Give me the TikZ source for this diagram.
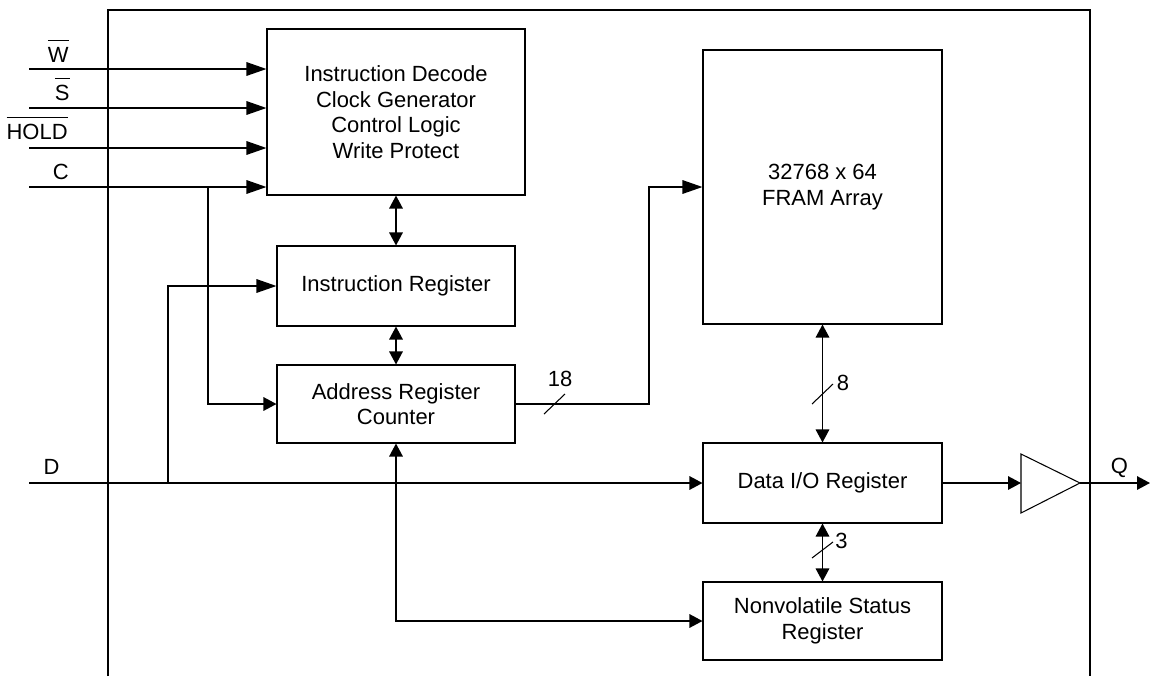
\documentclass[tikz,border=0pt]{standalone}
\usepackage{fontspec}
\setmainfont{Liberation Sans}
\usetikzlibrary{arrows.meta}

\newcommand{\pinbar}[1]{$\overline{\rule{0pt}{11pt}\hbox{#1}}$}

\begin{document}
\begin{tikzpicture}[x=0.2mm, y=-0.2mm,
		every node/.style={font=\fontsize{12.5}{14.5}\selectfont},
		blk/.style={draw, line width=0.6pt, align=center, inner sep=0pt},
		sig/.style={line width=0.9pt, -{Triangle[length=2.6mm,width=2.7mm]}},
		lsig/.style={line width=0.9pt, -{Triangle[length=4mm,width=2.7mm]}},
		bus/.style={line width=0.9pt, {Triangle[length=2.6mm,width=2.7mm]}-{Triangle[length=2.6mm,width=2.7mm]}},
		tick/.style={line width=0.6pt},
		pinlbl/.style={anchor=base east, inner sep=0pt}]
			\useasboundingbox (0,0) rectangle (1150,676);
			\draw [line width=0.7pt] (108,676) -- (108,10) -- (1090,10) -- (1090,676);

			\node [blk, minimum width=51.6mm, minimum height=33.2mm] (ctrl) at (396,112) {Instruction Decode\\Clock Generator\\Control Logic\\Write Protect};
			\node [blk, minimum width=47.6mm, minimum height=16mm] (ir) at (396,286) {Instruction Register};
			\node [blk, minimum width=47.6mm, minimum height=15.6mm] (ar) at (396,404) {Address Register\\Counter};
			\node [blk, minimum width=47.8mm, minimum height=54.8mm] (fram) at (822.5,187) {32768 x 64\\FRAM Array};
			\node [blk, minimum width=47.8mm, minimum height=16mm] (dio) at (822.5,483) {Data I/O Register};
			\node [blk, minimum width=47.8mm, minimum height=15.6mm] (nvs) at (822.5,621) {Nonvolatile Status\\Register};

			\coordinate (w) at (29,69);
			\coordinate (s) at (29,108);
			\coordinate (hold) at (29,148);
			\coordinate (c) at (29,187);
			\coordinate (d) at (29,483);
			\coordinate (cj) at (208,187);
			\coordinate (dj) at (168,483);
			\coordinate (bend) at (649,404);
			\coordinate (bufin) at (1021,483);
			\coordinate (bufout) at (1080,483);
			\coordinate (q) at (1150,483);

			\node [pinlbl] (wlbl) at (69,62) {\pinbar{W}};
			\node [pinlbl] (slbl) at (70,100) {\pinbar{S}};
			\node [pinlbl] (holdlbl) at (68,139) {\pinbar{HOLD}};
			\node [pinlbl] (clbl) at (69,179) {C};
			\node [anchor=base] (dlbl) at (51.5,474) {D};
			\node [anchor=base] (qlbl) at (1119.5,473) {Q};

			\draw [lsig] (w) -- (w -| ctrl.west);
			\draw [lsig] (s) -- (s -| ctrl.west);
			\draw [lsig] (hold) -- (hold -| ctrl.west);
			\draw [lsig] (c) -- (c -| ctrl.west);
			\draw [sig] (cj) |- (ar.west);
			\draw [lsig] (dj) |- (ir.west);
			\draw [sig] (d) -- (dio.west);

			\draw [bus] (ctrl.south) -- (ir.north);
			\draw [bus] (ir.south) -- (ar.north);
			\draw [lsig] (ar.east) -- (bend) |- (fram.west);
			\draw [bus] (fram.south) -- (dio.north);
			\draw [bus] (dio.south) -- (nvs.north);
			\draw [bus] (nvs.west) -| (ar.south);

			\draw [line width=0.6pt] (1021,454) -- (bufout) -- (1021,513) -- cycle;
			\draw [sig] (dio.east) -- (bufin);
			\draw [sig] (bufout) -- (q);

			\draw [tick] (554.5,404) ++(-10.5,10) -- ++(21,-20);
			\node [anchor=base] (n18) at (560,386) {18};
			\draw [tick] (822.5,394) ++(-10.5,10) -- ++(21,-20);
			\node [anchor=base] (n8) at (843,390) {8};
			\draw [tick] (822.5,550) ++(-10.5,8) -- ++(21,-16);
			\node [anchor=base] (n3) at (841.5,548) {3};
		\end{tikzpicture}
\end{document}
